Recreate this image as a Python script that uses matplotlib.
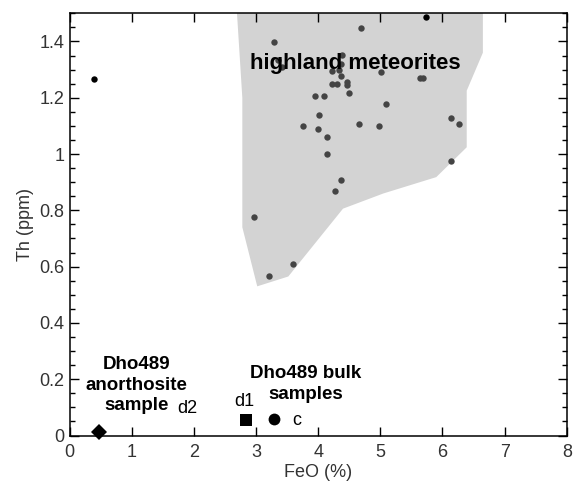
import matplotlib.pyplot as plt
from matplotlib.ticker import MultipleLocator, FormatStrFormatter

plt.rcParams['font.family'] = ['Liberation Sans', 'DejaVu Sans']

# highland meteorite field (outline of the shaded area)
field_feo = [2.68, 2.78, 2.78, 3.02, 3.52, 4.40, 5.05, 5.90, 6.39, 6.39, 6.65, 6.65]
field_th = [1.55, 1.20, 0.74, 0.53, 0.565, 0.806, 0.86, 0.918, 1.024, 1.225, 1.36, 1.55]

# highland meteorites
hm_feo = [4.69, 3.29, 4.39, 3.36, 3.42, 4.36, 4.34, 4.22, 5.01, 4.36, 5.64, 5.69,
          4.22, 4.31, 4.47, 4.47, 4.49, 3.95, 4.10, 5.09, 4.01, 6.13, 6.27, 3.76,
          4.66, 4.98, 3.99, 4.14, 4.14, 6.13, 4.36, 4.27, 2.96, 3.59, 3.21]
hm_th = [1.447, 1.398, 1.352, 1.335, 1.31, 1.32, 1.30, 1.296, 1.292, 1.278, 1.269, 1.269,
         1.248, 1.248, 1.257, 1.246, 1.217, 1.208, 1.208, 1.178, 1.138, 1.128, 1.108, 1.098,
         1.108, 1.098, 1.088, 1.059, 0.999, 0.977, 0.908, 0.868, 0.778, 0.608, 0.568]

# other meteorites outside the field
other_feo = [0.40, 5.73]
other_th = [1.267, 1.488]

# Dho489 samples
anor_feo, anor_th = [0.47], [0.012]   # d2
d1_feo, d1_th = [2.84], [0.054]
c_feo, c_th = [3.29], [0.060]

# bold group labels, one line each
anor_lines = ['Dho489', 'anorthosite', 'sample']
anor_line_y = [0.253, 0.179, 0.105]
bulk_lines = ['Dho489 bulk', 'samples']
bulk_line_y = [0.221, 0.144]

fig = plt.figure(figsize=(5.76, 4.86), dpi=100)
ax = fig.add_axes([0.1207, 0.1039, 0.8633, 0.8687])

ax.fill(field_feo, field_th, color='#d3d3d3', lw=0, zorder=1)
ax.plot(hm_feo, hm_th, 'o', color='#444444', ms=4.6, mew=0, zorder=2)
ax.plot(other_feo, other_th, 'o', color='black', ms=4.6, mew=0, zorder=2)

ax.plot(anor_feo, anor_th, 'D', color='black', ms=8, mew=0, zorder=4, clip_on=False)
ax.plot(d1_feo, d1_th, 's', color='black', ms=8, mew=0, zorder=4)
ax.plot(c_feo, c_th, 'o', color='black', ms=8.5, mew=0, zorder=4)

ax.text(4.60, 1.32, 'highland meteorites', fontsize=16, fontweight='bold',
        ha='center', va='center', zorder=3)
for line, y in zip(anor_lines, anor_line_y):
    ax.text(1.077, y, line, fontsize=13.5, fontweight='bold', ha='center', va='center')
for line, y in zip(bulk_lines, bulk_line_y):
    ax.text(3.80, y, line, fontsize=13.5, fontweight='bold', ha='center', va='center')
ax.text(1.90, 0.097, 'd2', fontsize=13, ha='center', va='center')
ax.text(2.817, 0.12, 'd1', fontsize=13, ha='center', va='center')
ax.text(3.657, 0.055, 'c', fontsize=13, ha='center', va='center')

ax.set_xlim(0, 8)
ax.set_ylim(0, 1.5)
ax.xaxis.set_major_locator(MultipleLocator(1))
ax.yaxis.set_major_locator(MultipleLocator(0.2))
ax.yaxis.set_minor_locator(MultipleLocator(0.05))
ax.xaxis.set_major_formatter(FormatStrFormatter('%g'))
ax.yaxis.set_major_formatter(FormatStrFormatter('%g'))
ax.tick_params(which='both', direction='in', top=True, right=True,
               labelsize=13, labelcolor='#333333', width=1)
ax.tick_params(which='major', length=6.5)
ax.tick_params(which='minor', length=3.6)
ax.tick_params(axis='x', pad=6)
for s in ax.spines.values():
    s.set_linewidth(1.1)

ax.set_xlabel('FeO (%)', fontsize=13, color='#333333', labelpad=2)
ax.set_ylabel('Th (ppm)', fontsize=13, color='#333333', labelpad=4)

fig.savefig('out.png', dpi=100)
